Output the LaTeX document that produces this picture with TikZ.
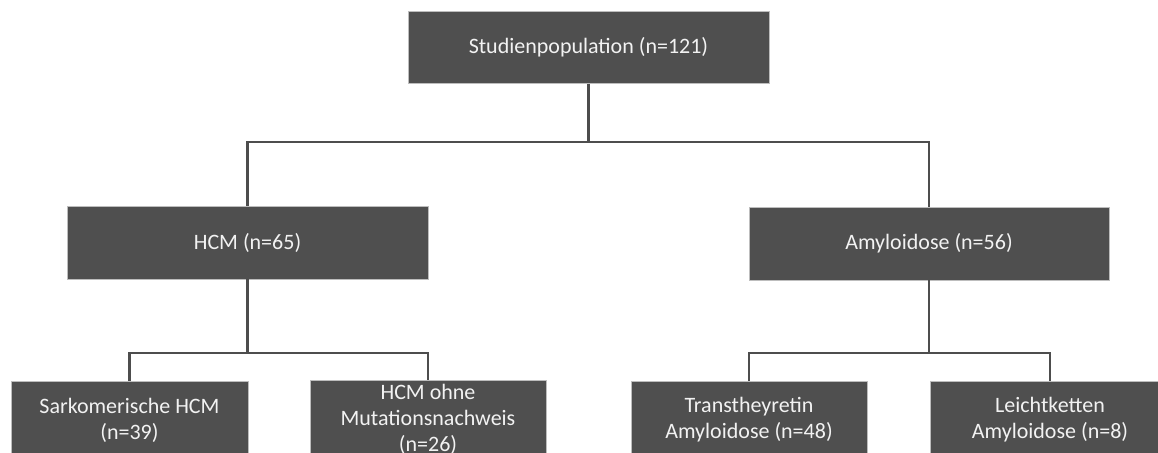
\documentclass[tikz,border=0pt]{standalone}
\usepackage{fontspec}
\setmainfont{Carlito}
\definecolor{boxfill}{HTML}{4F4F4F}
\definecolor{boxedge}{HTML}{BDBDBD}
\definecolor{linecol}{HTML}{4D4D4D}
\definecolor{txtcol}{HTML}{F2F2F2}
\tikzset{
  boxnode/.style={rectangle, fill=boxfill, draw=boxedge, line width=0.8pt,
    text=txtcol, align=center, inner sep=0pt,
    font=\fontsize{22}{26}\selectfont},
  conn/.style={draw=linecol, line width=2.8pt},
}
\begin{document}
\begin{tikzpicture}[x=1pt,y=-1pt]
\useasboundingbox (0,0) rectangle (1158,452);
% boxes
\node[boxnode, minimum width=361pt, minimum height=72pt] (top) at (588.5,47.5) {Studienpopulation (n=121)};
\node[boxnode, minimum width=361pt, minimum height=73pt] (hcm) at (247.5,242.5) {HCM (n=65)};
\node[boxnode, minimum width=360pt, minimum height=73pt] (amy) at (929,243.5) {Amyloidose (n=56)};
\node[boxnode, minimum width=237pt, minimum height=78pt] (sark) at (129.5,420) {Sarkomerische HCM\\(n=39)};
\node[boxnode, minimum width=236pt, minimum height=78pt] (ohne) at (428,419) {HCM ohne\\Mutationsnachweis\\(n=26)};
\node[boxnode, minimum width=236pt, minimum height=78pt] (ttr) at (749,420) {Transtheyretin\\Amyloidose (n=48)};
\node[boxnode, minimum width=240pt, minimum height=78pt] (al) at (1050,420) {Leichtketten\\Amyloidose (n=8)};
% connector bus points
\coordinate (bus1) at (588.5,142);
\coordinate (bus2) at (247.5,353);
\coordinate (bus3) at (929,353);
% connectors
\draw[conn] (top.south) -- (bus1);
\draw[conn] (hcm.north) |- (bus1) -| (amy.north);
\draw[conn] (hcm.south) -- (bus2);
\draw[conn] (sark.north) |- (bus2) -| (ohne.north);
\draw[conn] (amy.south) -- (bus3);
\draw[conn] (ttr.north) |- (bus3) -| (al.north);
\end{tikzpicture}
\end{document}
